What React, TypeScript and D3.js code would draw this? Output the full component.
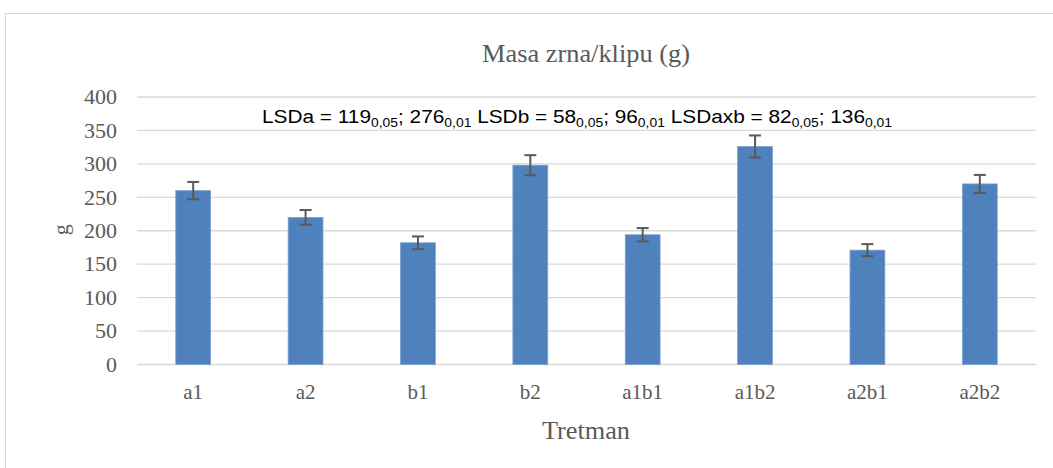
import React from "react";
import * as d3 from "d3";

const categories = ["a1", "a2", "b1", "b2", "a1b1", "a1b2", "a2b1", "a2b2"];
const values = [260, 220, 182, 298, 194, 326, 171, 270];
const errors = [13, 11, 9.5, 15, 10, 16.5, 9, 13.5];
const yTicks = [0, 50, 100, 150, 200, 250, 300, 350, 400];
const title = "Masa zrna/klipu (g)";
const xTitle = "Tretman";
const yTitle = "g";

const W = 1053;
const H = 468;
const plot = { left: 137, right: 1036, top: 97, bottom: 364.5 };

export default function App() {
  const x = d3.scaleBand<string>().domain(categories).range([plot.left, plot.right]).paddingInner(0.69).paddingOuter(0.345);
  const y = d3.scaleLinear().domain([0, 400]).range([plot.bottom, plot.top]);
  const grey = "#595959";
  const serif = "'Liberation Serif', 'Times New Roman', serif";
  return (
    <svg width={W} height={H} style={{ position: "absolute", left: 0, top: 0, background: "#fff" }}>
      <rect x={5.5} y={13.5} width={W + 10} height={H + 10} fill="#fff" stroke="#d9d9d9" strokeWidth={1} />
      <text x={586} y={62} textAnchor="middle" fontFamily={serif} fontSize={25} fill={grey} textLength={208} lengthAdjust="spacingAndGlyphs">{title}</text>
      {yTicks.map((t) => (
        <g key={t}>
          <line x1={plot.left} x2={plot.right} y1={y(t)} y2={y(t)} stroke="#d9d9d9" strokeWidth={1.3} />
          <text x={117} y={y(t)} dy="0.33em" textAnchor="end" fontFamily={serif} fontSize={22} fill={grey}>{t}</text>
        </g>
      ))}
      <text transform={`translate(68,${(plot.top + plot.bottom) / 2 - 1}) rotate(-90)`} textAnchor="middle" fontFamily={serif} fontSize={22} fill={grey}>{yTitle}</text>
      {categories.map((c, i) => {
        const bx = x(c)!;
        const bw = x.bandwidth();
        const cx = bx + bw / 2;
        return (
          <g key={c}>
            <rect x={bx} y={y(values[i])} width={bw} height={y(0) - y(values[i])} fill="#4f81bd" stroke="#7ea0cf" strokeWidth={0.8} />
            <line x1={cx} x2={cx} y1={y(values[i] + errors[i])} y2={y(values[i] - errors[i])} stroke={grey} strokeWidth={2} />
            <line x1={cx - 6} x2={cx + 6} y1={y(values[i] + errors[i])} y2={y(values[i] + errors[i])} stroke={grey} strokeWidth={2} />
            <line x1={cx - 6} x2={cx + 6} y1={y(values[i] - errors[i])} y2={y(values[i] - errors[i])} stroke={grey} strokeWidth={2} />
            <text x={cx} y={399} textAnchor="middle" fontFamily={serif} fontSize={21} fill={grey}>{c}</text>
          </g>
        );
      })}
      <text x={586} y={439} textAnchor="middle" fontFamily={serif} fontSize={25} fill={grey} textLength={88} lengthAdjust="spacingAndGlyphs">{xTitle}</text>
      <text x={262} y={123} fontFamily="'Liberation Sans Narrow', 'Liberation Sans', sans-serif" fontSize={18} fill="#000" textLength={630} lengthAdjust="spacingAndGlyphs">
        LSDa = 119<tspan fontSize={12} dy={4}>0,05</tspan><tspan dy={-4}>; 276</tspan><tspan fontSize={12} dy={4}>0,01</tspan><tspan dy={-4}> LSDb = 58</tspan><tspan fontSize={12} dy={4}>0,05</tspan><tspan dy={-4}>; 96</tspan><tspan fontSize={12} dy={4}>0,01</tspan><tspan dy={-4}> LSDaxb = 82</tspan><tspan fontSize={12} dy={4}>0,05</tspan><tspan dy={-4}>; 136</tspan><tspan fontSize={12} dy={4}>0,01</tspan>
      </text>
    </svg>
  );
}
